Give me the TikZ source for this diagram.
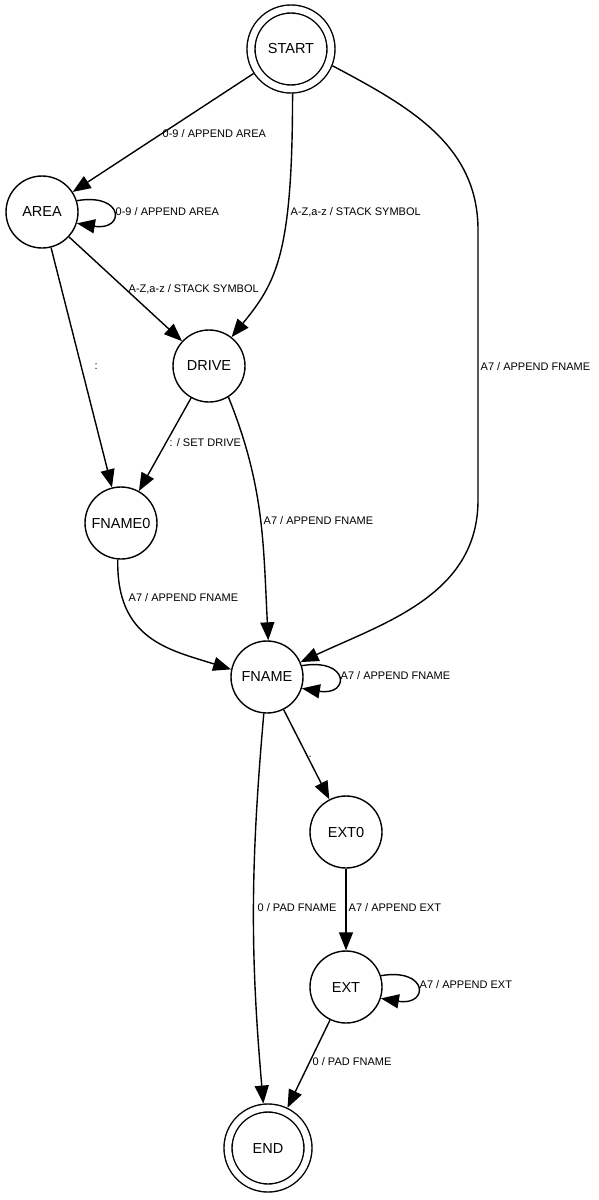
\documentclass[tikz,border=0pt]{standalone}
\usepackage{fontspec}
\setmainfont{Liberation Sans}
\usepackage{tikz}
\usetikzlibrary{arrows.meta}
\tikzset{
  state/.style={circle, draw, line width=1.4pt, minimum size=72pt, inner sep=0pt,
    font=\fontsize{14.5}{17}\selectfont},
  accept/.style={state, double, double distance=6.6pt, minimum size=80pt, outer sep=4.7pt},
  flow/.style={-{Triangle[length=18pt, width=14pt]}, line width=1.4pt},
  lbl/.style={anchor=west, inner sep=0pt, font=\fontsize{11}{13}\selectfont},
}

\begin{document}
\begin{tikzpicture}[x=1pt, y=-1pt]
\useasboundingbox (0,0) rectangle (599,1200);

\node[accept] (start) at (291,49) {START};
\node[state] (area) at (42,212) {AREA};
\node[state] (drive) at (209,366) {DRIVE};
\node[state] (fname0) at (121,523) {FNAME0};
\node[state] (fname) at (267,677) {FNAME};
\node[state] (ext0) at (346,832) {EXT0};
\node[state] (ext) at (346,987) {EXT};
\node[accept] (fin) at (268,1148) {END};

\draw[flow] (start) -- (area) node[lbl] at (162,134) {0-9 / APPEND AREA};
\draw[flow] (area.18) .. controls +(48,-8) and +(48,8) .. (area.-18) node[lbl] at (115,212) {0-9 / APPEND AREA};
\draw[flow] (start.-88) .. controls +(0,160) and +(45,-55) .. (drive.52) node[lbl] at (290,212) {A-Z,a-z / STACK SYMBOL};
\draw[flow] (start.-22) to[out=-28, in=90] (478,230) -- (478,500) to[out=-90, in=25] (fname.24) node[lbl] at (480,367) {A7 / APPEND FNAME};
\draw[flow] (area) -- (drive) node[lbl] at (128,289) {A-Z,a-z / STACK SYMBOL};
\draw[flow] (area) -- (fname0) node[lbl] at (94,367) {:};
\draw[flow] (drive) -- (fname0) node[lbl] at (169,443) {: / SET DRIVE};
\draw[flow] (drive.-58) to[out=-68, in=93] (fname.88) node[lbl] at (263,521) {A7 / APPEND FNAME};
\draw[flow] (fname0.-95) .. controls (116,640) and (170,650) .. (fname.168) node[lbl] at (128,598) {A7 / APPEND FNAME};
\draw[flow] (fname.18) .. controls +(48,-8) and +(48,8) .. (fname.-18) node[lbl] at (340,676) {A7 / APPEND FNAME};
\draw[flow] (fname) -- (ext0) node[lbl] at (308,757) {.};
\draw[flow] (fname.-95) to[out=-95, in=95] (fin.96) node[lbl] at (257,908) {0 / PAD FNAME};
\draw[flow] (ext0) -- (ext) node[lbl] at (348,908) {A7 / APPEND EXT};
\draw[flow] (ext.18) .. controls +(48,-8) and +(48,8) .. (ext.-18) node[lbl] at (419,985) {A7 / APPEND EXT};
\draw[flow] (ext) -- (fin) node[lbl] at (312,1062) {0 / PAD FNAME};
\end{tikzpicture}
\end{document}
